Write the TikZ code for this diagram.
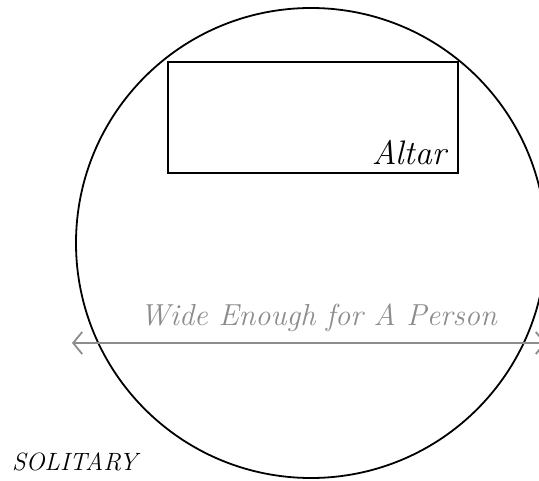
\documentclass[tikz,border=0pt]{standalone}
\usepackage{fontspec}
\usetikzlibrary{arrows.meta}
\definecolor{rulergray}{RGB}{140,140,140}

\begin{document}
\begin{tikzpicture}[x=1pt, y=-1pt,
  wall/.style={draw, line width=1.8pt},
  altarbox/.style={draw, line width=2.8pt},
  label/.style={inner sep=0pt, font=\itshape\fontsize{34}{36}\selectfont},
  span/.style={rulergray, line width=1.8pt, {Straight Barb[length=9pt,width=22pt]}-{Straight Barb[length=9pt,width=22pt]}}
]
  \useasboundingbox (0,0) rectangle (539,481);
  \clip (0,0) rectangle (539,481);
  % the round room and the altar at its top
  \draw[wall] (311,243) circle[radius=235];
  \draw[altarbox] (168,62) rectangle (458,173);
  \node[label, anchor=base east] (altar) at (446,165) {Altar};
  % width mark
  \coordinate (spanleft) at (72,343);
  \coordinate (spanright) at (546,343);
  \draw[span] (spanleft) -- (spanright);
  \node[label, rulergray, anchor=base west, font=\itshape\fontsize{30.4}{32}\selectfont] (wide) at (140,326) {Wide Enough for A Person};
  \node[label, anchor=base west, font=\itshape\fontsize{25}{27}\selectfont] (solitary) at (12,471) {SOLITARY};
\end{tikzpicture}
\end{document}
